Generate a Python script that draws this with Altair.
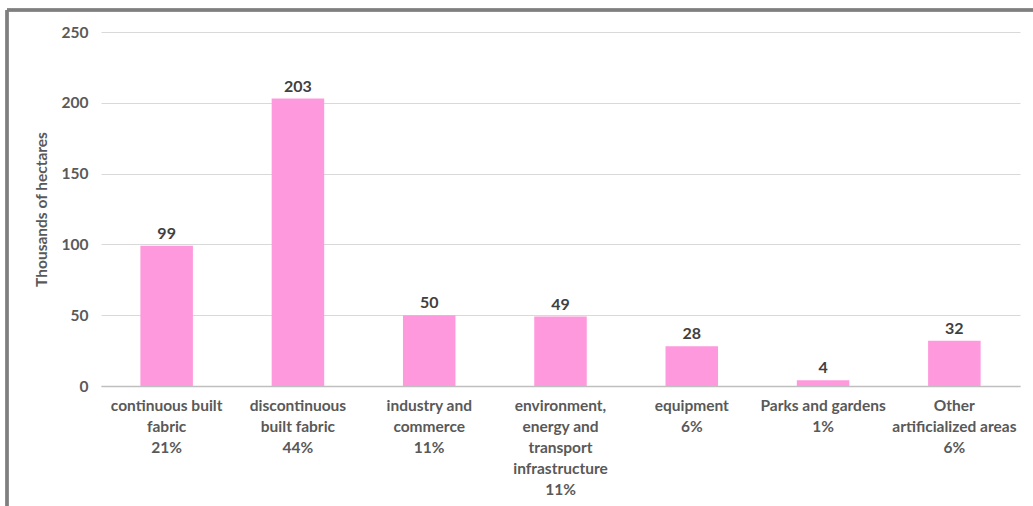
import altair as alt
import pandas as pd

categories = [
    "continuous built|fabric",
    "discontinuous|built fabric",
    "industry and|commerce",
    "environment,|energy and|transport|infrastructure",
    "equipment",
    "Parks and gardens",
    "Other|artificialized areas",
]
shares = ["21%", "44%", "11%", "11%", "6%", "1%", "6%"]
values = [99, 203, 50, 49, 28, 4, 32]

labels = [c + "|" + s for c, s in zip(categories, shares)]
df = pd.DataFrame({"label": labels, "value": values})

FONT = "Lato"
x = alt.X(
    "label:N",
    sort=labels,
    scale=alt.Scale(paddingInner=0.6, paddingOuter=0.3),
    axis=alt.Axis(
        title=None,
        labelAngle=0,
        labelExpr="split(datum.label, '|')",
        labelFont=FONT,
        labelFontSize=15.5,
        labelFontWeight="bold",
        labelColor="#595959",
        labelLineHeight=21,
        labelPadding=12,
        ticks=False,
        domainColor="#bfbfbf",
        domainWidth=1.5,
        grid=False,
        labelLimit=200,
    ),
)
y = alt.Y(
    "value:Q",
    scale=alt.Scale(domain=[0, 250], nice=False),
    axis=alt.Axis(
        values=[0, 50, 100, 150, 200, 250],
        title="Thousands of hectares",
        titleFont=FONT,
        titleFontSize=15.5,
        titleFontWeight="bold",
        titleColor="#595959",
        titlePadding=12,
        labelFont=FONT,
        labelFontSize=15.5,
        labelFontWeight="bold",
        labelColor="#595959",
        labelPadding=13,
        ticks=False,
        domain=False,
        gridColor="#d9d9d9",
        gridWidth=1,
    ),
)

base = alt.Chart(df)
bars = base.mark_bar(color="#FF99DD").encode(x=x, y=y)
text = base.mark_text(
    font=FONT, fontSize=16, fontWeight="bold", color="#404040",
    baseline="bottom", dy=-4,
).encode(x=alt.X("label:N", sort=labels), y=alt.Y("value:Q"), text="value:Q")

frame_top = alt.Chart(df).mark_rule(color="#7f7f7f", strokeWidth=2.5).encode(
    x=alt.value(-94), x2=alt.value(940), y=alt.value(-22)
)
frame_left = alt.Chart(df).mark_rule(color="#7f7f7f", strokeWidth=2.5).encode(
    x=alt.value(-94), y=alt.value(-22), y2=alt.value(480)
)

chart = (
    alt.layer(bars, text, frame_top, frame_left)
    .properties(
        width=919,
        height=354,
        autosize=alt.AutoSizeParams(type="none"),
        padding={"left": 101, "top": 32, "right": 13, "bottom": 120},
        background="white",
    )
    .configure_view(stroke=None)
)

chart.save("out.html", embed_options={"renderer": "svg", "actions": False})
